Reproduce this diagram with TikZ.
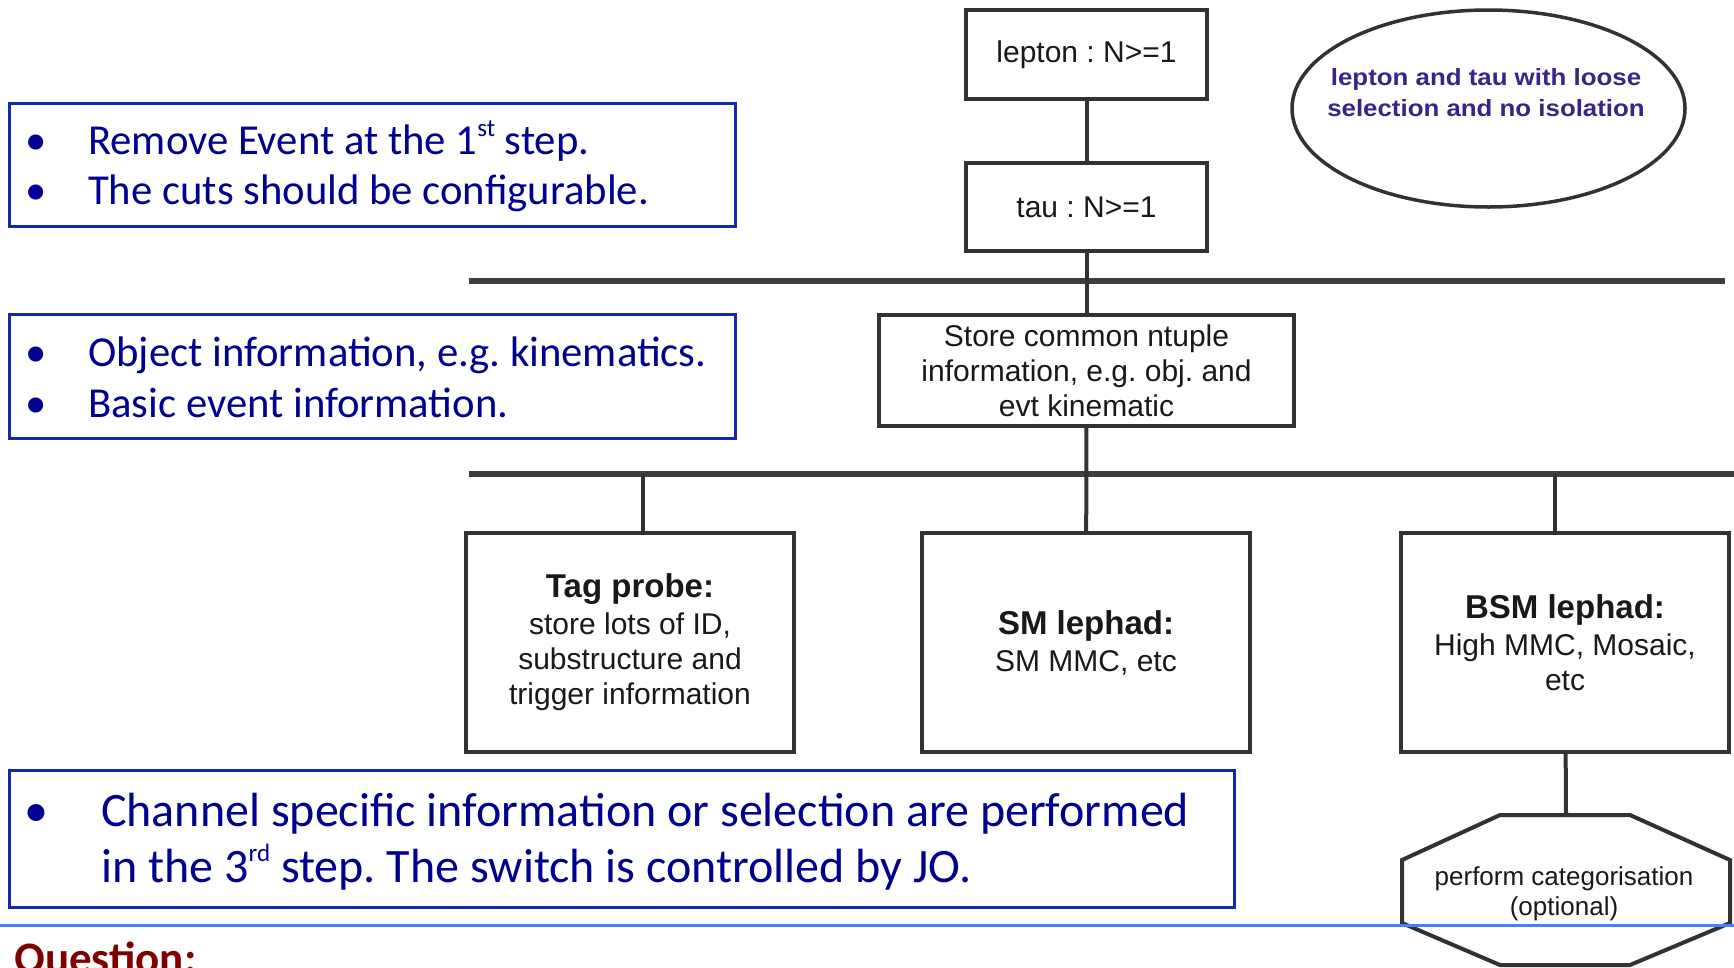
\documentclass[tikz,border=0pt]{standalone}
\usepackage{fontspec}
\setmainfont{Liberation Sans}
\newfontfamily\calib{Carlito}
\newfontfamily\ellfont[FakeStretch=1.1]{Liberation Sans}
\usetikzlibrary{shapes.geometric}
\definecolor{navytext}{RGB}{0,0,145}
\definecolor{bluebord}{RGB}{20,40,170}
\definecolor{rulblue}{RGB}{70,130,245}
\definecolor{dred}{RGB}{128,0,0}
\definecolor{boxgray}{RGB}{50,50,50}
\definecolor{rulegray}{RGB}{62,62,62}
\definecolor{txtgray}{RGB}{25,25,25}
\definecolor{elltext}{RGB}{60,35,135}
\newcommand{\supr}[1]{\raisebox{0.42em}{\fontsize{25}{25}\selectfont #1}}
\frenchspacing
\begin{document}
\begin{tikzpicture}[x=1pt,y=-1pt,
  flowbox/.style={draw=boxgray, line width=4pt, fill=white, inner sep=0pt, align=center,
    text=txtgray, font=\fontsize{30}{35}\selectfont},
  conn/.style={draw=boxgray, line width=4pt},
  rulel/.style={draw=rulegray, line width=5.5pt},
  notebox/.style={draw=bluebord, line width=2.5pt, inner sep=0pt, anchor=north west},
  bul/.style={anchor=base, text=navytext, inner sep=0pt},
  notetxt/.style={anchor=base west, text=navytext, inner sep=0pt},
  smallnote/.style={font=\calib\fontsize{42.7}{42.7}\selectfont},
  bignote/.style={font=\calib\fontsize{48}{48}\selectfont},
]
\useasboundingbox (0,0) rectangle (1734,967);
\fill[white] (0,0) rectangle (1734,967);

% horizontal rules
\coordinate (r1l) at (469,281);
\coordinate (r1r) at (1725,281);
\coordinate (r2l) at (469,474);
\coordinate (r2r) at (1740,474);
\draw[rulel] (r1l) -- (r1r);
\draw[rulel] (r2l) -- (r2r);

% flow boxes
\node[flowbox, minimum width=241pt, minimum height=89pt] (lep) at (1086.5,54.5) {lepton : N>=1};
\node[flowbox, minimum width=241pt, minimum height=88pt] (tau) at (1086.5,207) {tau : N>=1};
\node[flowbox, minimum width=415pt, minimum height=111pt] (store) at (1086.5,370.5)
  {Store common ntuple\\information, e.g. obj. and\\evt kinematic};
\node[flowbox, minimum width=328pt, minimum height=219pt] (tag) at (630,642.5)
  {{\bfseries\fontsize{33}{38}\selectfont Tag probe:}\\[2pt]store lots of ID,\\substructure and\\trigger information};
\node[flowbox, minimum width=328pt, minimum height=219pt] (sm) at (1086,642.5)
  {{\bfseries\fontsize{33}{38}\selectfont SM lephad:}\\[2pt]SM MMC, etc};
\node[flowbox, minimum width=328pt, minimum height=219pt] (bsm) at (1565,642.5)
  {{\bfseries\fontsize{33}{38}\selectfont BSM lephad:}\\[2pt]High MMC, Mosaic,\\etc};

% octagon
\node[inner sep=0pt, minimum width=328pt, minimum height=150pt] (oct) at (1566,890) {};
\draw[draw=boxgray, line width=4pt, fill=white, line join=miter]
  (1500,815) -- (1630,815) -- (1730,860) -- (1730,923) -- (1630,965) -- (1500,965) -- (1402,923) -- (1402,860) -- cycle;
\node[align=center, text=txtgray, font=\fontsize{26}{30}\selectfont, inner sep=0pt] (octtxt) at (1564,894)
  {perform categorisation\\(optional)};

% connectors
\draw[conn] (lep) -- (tau);
\draw[conn] (tau) -- (store);
\draw[conn] (store) -- (sm);
\coordinate (ttag) at (643,474);
\coordinate (tbsm) at (1555,474);
\draw[conn] (ttag) -- (ttag |- tag.north);
\draw[conn] (tbsm) -- (tbsm |- bsm.north);
\draw[conn] (bsm) -- (oct.north);

% ellipse
\node[ellipse, draw=boxgray, line width=3.5pt, inner sep=0pt, minimum width=393pt, minimum height=197pt] (ell) at (1488.5,108.5) {};
\node[align=center, text=elltext, font=\ellfont\bfseries\fontsize{23.5}{31}\selectfont, inner sep=0pt] (elltxt) at (1486,93)
  {lepton and tau with loose\\selection and no isolation};

% note boxes
\node[notebox, minimum width=726pt, minimum height=123pt] (n1) at (8,102) {};
\node[bul, smallnote] (n1b1) at (36,154) {•};
\node[notetxt, smallnote] (n1t1) at (88,154) {Remove Event at the 1\supr{st} step.};
\node[bul, smallnote] (n1b2) at (36,204) {•};
\node[notetxt, smallnote] (n1t2) at (88,204) {The cuts should be configurable.};

\node[notebox, minimum width=726pt, minimum height=124pt] (n2) at (8,313) {};
\node[bul, smallnote] (n2b1) at (36,366) {•};
\node[notetxt, smallnote] (n2t1) at (88,366) {Object information, e.g. kinematics.};
\node[bul, smallnote] (n2b2) at (36,417) {•};
\node[notetxt, smallnote] (n2t2) at (88,417) {Basic event information.};

\node[notebox, minimum width=1225pt, minimum height=137pt] (n3) at (8,769) {};
\node[bul, bignote] (n3b1) at (36,826) {•};
\node[notetxt, bignote] (n3t1) at (101,826) {Channel specific information or selection are performed};
\node[notetxt, bignote] (n3t2) at (101,882) {in the 3\supr{rd} step. The switch is controlled by JO.};

% bottom line and question
\coordinate (bl) at (0,925.5);
\coordinate (br) at (1734,925.5);
\draw[draw=rulblue, line width=2.5pt] (bl) -- (br);
\node[anchor=base west, text=dred, inner sep=0pt, font=\calib\bfseries\fontsize{45}{45}\selectfont] (q) at (14,973) {Question:};
\end{tikzpicture}
\end{document}
